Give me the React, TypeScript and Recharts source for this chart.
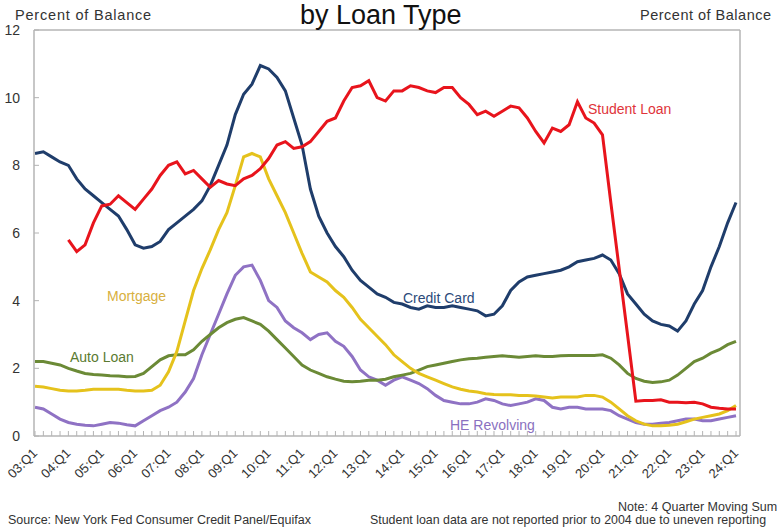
import React from "react"
import { LineChart, Line, XAxis, YAxis, ReferenceLine } from "recharts"

const years = ["03", "04", "05", "06", "07", "08", "09", "10", "11", "12", "13", "14", "15", "16", "17", "18", "19", "20", "21", "22", "23", "24"]
const quarters = years.flatMap((y) => [`${y}:Q1`, `${y}:Q2`, `${y}:Q3`, `${y}:Q4`]).slice(0, 85)

const yTicks = [0, 2, 4, 6, 8, 10, 12]

const creditCard = [
  8.35, 8.4, 8.25, 8.1, 8.0, 7.6, 7.3, 7.1, 6.9, 6.7, 6.5, 6.1, 5.65, 5.55, 5.6, 5.75, 6.1, 6.3, 6.5, 6.7,
  6.95, 7.4, 8.0, 8.6, 9.5, 10.1, 10.4, 10.95, 10.85, 10.6, 10.2, 9.4, 8.6, 7.3, 6.5, 6.0, 5.6, 5.3, 4.9, 4.6,
  4.4, 4.2, 4.1, 3.95, 3.9, 3.8, 3.75, 3.85, 3.8, 3.8, 3.85, 3.8, 3.75, 3.7, 3.55, 3.6, 3.85, 4.3, 4.55, 4.7,
  4.75, 4.8, 4.85, 4.9, 5.0, 5.15, 5.2, 5.25, 5.35, 5.2, 4.8, 4.2, 3.9, 3.6, 3.4, 3.3, 3.25, 3.1, 3.4, 3.9,
  4.3, 5.0, 5.6, 6.3, 6.9,
]

const studentLoan = [
  null, null, null, null, 5.8, 5.45, 5.65, 6.3, 6.8, 6.85, 7.1, 6.9, 6.7, 7.0, 7.3, 7.7, 8.0, 8.1, 7.75, 7.85,
  7.6, 7.35, 7.55, 7.45, 7.4, 7.6, 7.7, 7.9, 8.2, 8.6, 8.7, 8.5, 8.55, 8.7, 9.0, 9.3, 9.4, 9.9, 10.3, 10.35,
  10.5, 10.0, 9.9, 10.2, 10.2, 10.35, 10.3, 10.2, 10.15, 10.3, 10.3, 10.0, 9.8, 9.5, 9.6, 9.45, 9.6, 9.75, 9.7, 9.4,
  9.0, 8.66, 9.1, 9.0, 9.2, 9.88, 9.4, 9.25, 8.9, 6.9, 4.95, 3.0, 1.03, 1.05, 1.05, 1.07, 1.0, 1.0, 0.98, 1.0,
  0.95, 0.85, 0.82, 0.8, 0.8,
]

const mortgage = [
  1.47, 1.45, 1.4, 1.35, 1.33, 1.33, 1.35, 1.38, 1.38, 1.38, 1.38, 1.35, 1.33, 1.33, 1.35, 1.5, 1.9, 2.5, 3.4, 4.3,
  4.95, 5.5, 6.1, 6.6, 7.4, 8.25, 8.35, 8.25, 7.6, 7.1, 6.6, 6.0, 5.4, 4.85, 4.7, 4.55, 4.3, 4.1, 3.8, 3.45,
  3.2, 2.95, 2.7, 2.4, 2.2, 2.0, 1.85, 1.75, 1.65, 1.55, 1.45, 1.38, 1.33, 1.3, 1.25, 1.23, 1.22, 1.22, 1.2, 1.2,
  1.18, 1.15, 1.12, 1.15, 1.15, 1.15, 1.2, 1.2, 1.15, 1.0, 0.8, 0.6, 0.45, 0.35, 0.3, 0.3, 0.32, 0.35, 0.42, 0.5,
  0.55, 0.6, 0.65, 0.75, 0.9,
]

const autoLoan = [
  2.2, 2.2, 2.15, 2.1, 2.0, 1.92, 1.85, 1.82, 1.8, 1.78, 1.77, 1.75, 1.76, 1.85, 2.05, 2.25, 2.37, 2.4, 2.4, 2.55,
  2.8, 3.0, 3.2, 3.35, 3.45, 3.5, 3.4, 3.3, 3.1, 2.85, 2.6, 2.35, 2.1, 1.95, 1.85, 1.75, 1.68, 1.62, 1.6, 1.62,
  1.65, 1.65, 1.68, 1.75, 1.8, 1.85, 1.95, 2.05, 2.1, 2.15, 2.2, 2.25, 2.28, 2.3, 2.33, 2.35, 2.37, 2.35, 2.33, 2.35,
  2.37, 2.35, 2.35, 2.37, 2.38, 2.38, 2.38, 2.38, 2.4, 2.3, 2.1, 1.85, 1.7, 1.62, 1.58, 1.6, 1.65, 1.8, 2.0, 2.2,
  2.3, 2.45, 2.55, 2.7, 2.8,
]

const heRevolving = [
  0.85, 0.8, 0.65, 0.5, 0.4, 0.35, 0.32, 0.3, 0.35, 0.4, 0.38, 0.33, 0.3, 0.45, 0.6, 0.75, 0.85, 1.0, 1.3, 1.7,
  2.4, 3.0, 3.6, 4.2, 4.75, 5.0, 5.05, 4.6, 4.0, 3.8, 3.4, 3.2, 3.05, 2.85, 3.0, 3.05, 2.8, 2.65, 2.35, 1.95,
  1.75, 1.65, 1.5, 1.65, 1.75, 1.65, 1.55, 1.4, 1.2, 1.05, 1.0, 0.95, 0.95, 1.0, 1.1, 1.05, 0.95, 0.9, 0.95, 1.0,
  1.1, 1.05, 0.85, 0.8, 0.85, 0.85, 0.8, 0.8, 0.8, 0.75, 0.6, 0.5, 0.4, 0.35, 0.35, 0.38, 0.4, 0.45, 0.5, 0.5,
  0.45, 0.45, 0.5, 0.55, 0.6,
]

const data = quarters.map((q, i) => ({
  q,
  creditCard: creditCard[i],
  studentLoan: studentLoan[i],
  mortgage: mortgage[i],
  autoLoan: autoLoan[i],
  heRevolving: heRevolving[i],
}))

const font = "'Liberation Sans', Arial, sans-serif"
const axisGray = "#b4b4b4"
const textGray = "#333"

function QuarterTick(props: any) {
  const { x, y, payload } = props
  const label: string = payload.value
  return (
    <g>
      <line x1={x} y1={y} x2={x} y2={y - 5} stroke={axisGray} />
      {label.endsWith("Q1") && (
        <text
          x={x + 3}
          y={y + 18}
          transform={`rotate(-45 ${x + 3} ${y + 18})`}
          textAnchor="end"
          fontSize={13}
          fontFamily={font}
          fill={textGray}
        >
          {label}
        </text>
      )}
    </g>
  )
}

function LeftTick(props: any) {
  const { x, y, payload } = props
  return (
    <g>
      <line x1={x} y1={y} x2={x + 5} y2={y} stroke={axisGray} />
      <text x={x - 14} y={y + 5} textAnchor="end" fontSize={14} fontFamily={font} fill={textGray}>
        {payload.value}
      </text>
    </g>
  )
}

function RightTick(props: any) {
  const { x, y, payload } = props
  return (
    <g>
      <line x1={x} y1={y} x2={x - 5} y2={y} stroke={axisGray} />
      <text x={x + 15} y={y + 5} textAnchor="start" fontSize={14} fontFamily={font} fill={textGray}>
        {payload.value}
      </text>
    </g>
  )
}

const abs = (left: number, top: number, extra: React.CSSProperties = {}): React.CSSProperties => ({
  position: "absolute",
  left,
  top,
  fontFamily: font,
  whiteSpace: "nowrap",
  lineHeight: 1,
  ...extra,
})

export default function App() {
  return (
    <div style={{ position: "absolute", left: 0, top: 0, width: 781, height: 529, overflow: "hidden", background: "#fff" }}>
      <LineChart width={781} height={529} data={data} margin={{ top: 30, right: 0, bottom: 0, left: 0 }}>
        <XAxis
          dataKey="q"
          interval={0}
          height={93}
          tickSize={0}
          tickMargin={0}
          tick={<QuarterTick />}
          tickLine={false}
          axisLine={{ stroke: axisGray, strokeWidth: 1.5 }}
          padding={{ left: 1, right: 4 }}
        />
        <YAxis
          yAxisId="left"
          domain={[0, 12]}
          ticks={yTicks}
          width={34}
          tickSize={0}
          tickMargin={0}
          tick={<LeftTick />}
          tickLine={false}
          axisLine={{ stroke: axisGray, strokeWidth: 1.5 }}
        />
        <YAxis
          yAxisId="right"
          orientation="right"
          domain={[0, 12]}
          ticks={yTicks}
          width={41}
          tickSize={0}
          tickMargin={0}
          tick={<RightTick />}
          tickLine={false}
          axisLine={{ stroke: axisGray, strokeWidth: 1.5 }}
        />
        <ReferenceLine yAxisId="left" y={12} stroke={axisGray} strokeWidth={1.5} />
        <Line yAxisId="left" dataKey="heRevolving" stroke="#8f72c4" strokeWidth={3} dot={false} isAnimationActive={false} />
        <Line yAxisId="left" dataKey="autoLoan" stroke="#6b8a36" strokeWidth={3} dot={false} isAnimationActive={false} />
        <Line yAxisId="left" dataKey="mortgage" stroke="#e5c21c" strokeWidth={3} dot={false} isAnimationActive={false} />
        <Line yAxisId="left" dataKey="creditCard" stroke="#1f3d6b" strokeWidth={3} dot={false} isAnimationActive={false} />
        <Line yAxisId="left" dataKey="studentLoan" stroke="#e8141c" strokeWidth={3} dot={false} isAnimationActive={false} />
      </LineChart>

      <div style={abs(300, 2, { fontSize: 27, color: "#111" })}>by Loan Type</div>
      <div style={abs(15, 8, { fontSize: 14.5, letterSpacing: 0.8, color: textGray })}>Percent of Balance</div>
      <div style={abs(640, 8, { fontSize: 14.5, letterSpacing: 0.5, color: textGray })}>Percent of Balance</div>

      <div style={abs(588, 102, { fontSize: 14, color: "#e0343a" })}>Student Loan</div>
      <div style={abs(403, 291, { fontSize: 14, color: "#2b4a7a" })}>Credit Card</div>
      <div style={abs(107, 289, { fontSize: 14, color: "#d8b040" })}>Mortgage</div>
      <div style={abs(70, 350, { fontSize: 14, color: "#5a7a30" })}>Auto Loan</div>
      <div style={abs(450, 418, { fontSize: 14, color: "#8a70c0" })}>HE Revolving</div>

      <div style={abs(618, 501, { fontSize: 12.5, color: textGray })}>Note: 4 Quarter Moving Sum</div>
      <div style={abs(8, 514, { fontSize: 12.5, color: textGray })}>Source: New York Fed Consumer Credit Panel/Equifax</div>
      <div style={abs(370, 514, { fontSize: 12.4, color: textGray })}>
        Student loan data are not reported prior to 2004 due to uneven reporting
      </div>
    </div>
  )
}
